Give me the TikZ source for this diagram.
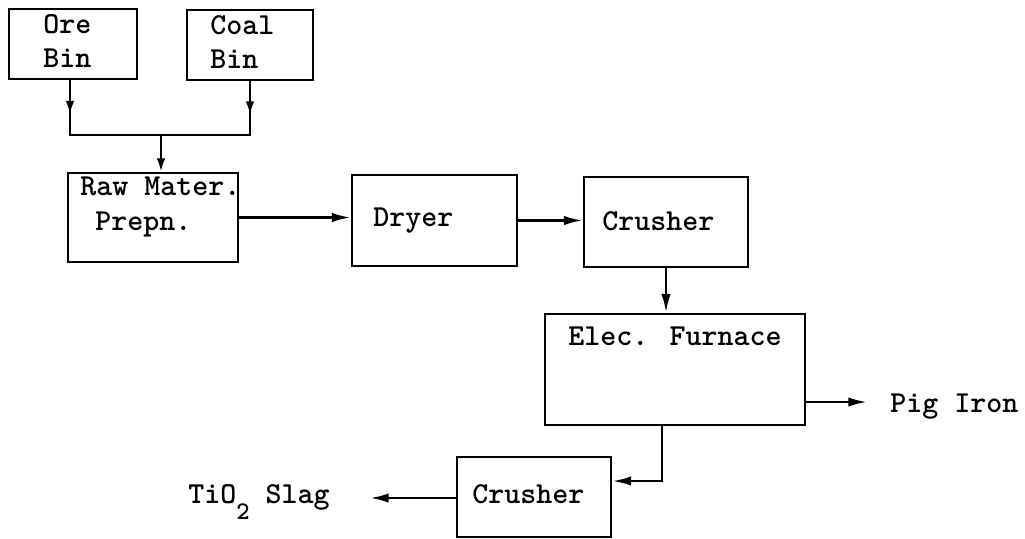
\documentclass[tikz,border=0pt]{standalone}
\usetikzlibrary{arrows.meta,calc,fit}
\tikzset{
  box/.style={draw, line width=2.1pt, inner sep=0pt},
  txt/.style={font=\fontsize{22.86}{26}\selectfont\ttfamily\bfseries, inner sep=0pt, anchor=base west},
  link/.style={line width=1.8pt},
  arr/.style={link, -{Latex[length=14pt,width=7pt]}},
  smallarr/.style={link, -{Latex[length=10pt,width=6.5pt]}},
}
\begin{document}
\begin{tikzpicture}[x=0.75pt,y=-0.75pt]
\useasboundingbox (0,0) rectangle (1025,539);
% boxes
\node[box, fit={(9,9)(137,79)}] (ore) {};
\node[box, fit={(187,10)(313,80)}] (coal) {};
\node[box, fit={(68,173)(238,262)}] (raw) {};
\node[box, fit={(352,175)(517,266)}] (dryer) {};
\node[box, fit={(584,177)(748,267)}] (cr1) {};
\node[box, fit={(545,314)(805,425)}] (fur) {};
\node[box, fit={(457,457)(611,537)}] (cr2) {};
% texts
\node[txt] (oreA) at (43,33) {Ore};
\node[txt] (oreB) at (43,67) {Bin};
\node[txt] (coalA) at (210,34) {Coal};
\node[txt] (coalB) at (210,68) {Bin};
\node[txt] (rawA) at (80,195) {Raw Mater.};
\node[txt] (rawB) at (95,230) {Prepn.};
\node[txt] (dryT) at (373,226) {Dryer};
\node[txt] (cr1T) at (602,230) {Crusher};
\node[txt] (furT) at (568,345) {Elec. Furnace};
\node[txt] (pig) at (890,412) {Pig Iron};
\node[txt] (cr2T) at (472,503) {Crusher};
\node[txt] (slag) at (188,503) {TiO\raisebox{-0.55em}{\fontsize{19}{19}\selectfont 2} Slag};
% connectors
\coordinate (jl) at (70,135);
\coordinate (jr) at (250,135);
\coordinate (jm) at (161,135);
\draw[link] (ore.south -| jl) -- (jl) -- (jr) -- (coal.south -| jr);
\draw[smallarr] (ore.south -| jl) -- ($(ore.south -| jl)!0.62!(jl)$);
\draw[smallarr] (coal.south -| jr) -- ($(coal.south -| jr)!0.62!(jr)$);
\draw[smallarr] (jm) -- (jm |- raw.north);
\draw[arr] (raw.east) -- (raw.east -| dryer.west);
\draw[arr] (dryer.east) -- (dryer.east -| cr1.west);
\draw[arr] (cr1.south) -- (cr1.south |- fur.north);
\coordinate (pe) at (867,402);
\draw[arr] (fur.east |- pe) -- (pe);
\coordinate (fo) at (662,0);
\coordinate (ci) at (0,481);
\draw[arr] (fur.south -| fo) |- (cr2.east |- ci);
\coordinate (st) at (370,498);
\draw[arr] (cr2.west |- st) -- (st);
\end{tikzpicture}
\end{document}
